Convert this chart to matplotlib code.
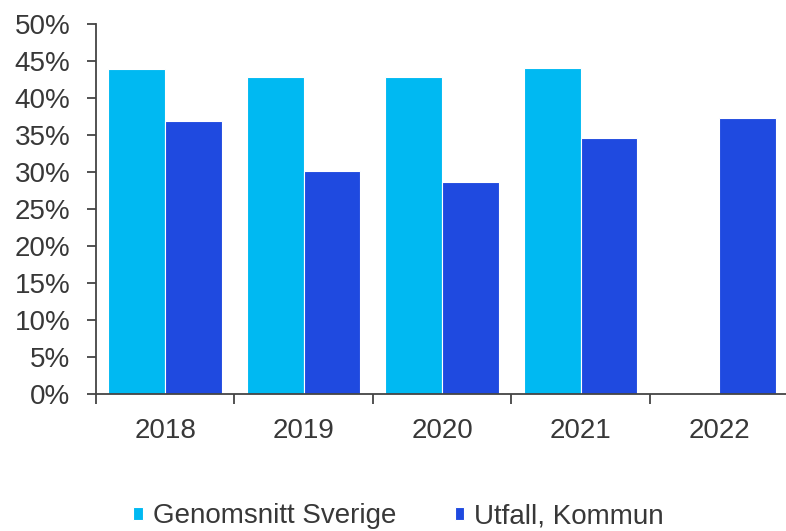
import matplotlib
matplotlib.use("Agg")
import matplotlib.pyplot as plt
import numpy as np
from matplotlib.ticker import FuncFormatter, FixedLocator

plt.rcParams['font.family'] = ['Liberation Sans', 'DejaVu Sans']

years = ["2018", "2019", "2020", "2021", "2022"]
genomsnitt = [43.9, 42.8, 42.8, 44.0, np.nan]
utfall = [36.9, 30.2, 28.7, 34.6, 37.3]
yticks = [0, 5, 10, 15, 20, 25, 30, 35, 40, 45, 50]

c_light = "#00B9F2"
c_dark = "#1F4AE0"
txt = "#383838"
fs = 20

fig = plt.figure(figsize=(7.86, 5.31), dpi=100)
ax = fig.add_axes([96/786, 1-394/531, 1-96/786+0.003, (394-24)/531])

x = np.arange(len(years)) + 0.5
w = 0.41
ax.bar(x - w/2, genomsnitt, width=w, color=c_light, edgecolor="white", linewidth=0.8, label="Genomsnitt Sverige")
ax.bar(x + w/2, utfall, width=w, color=c_dark, edgecolor="white", linewidth=0.8, label="Utfall, Kommun")

ax.set_xlim(0, len(years))
ax.set_ylim(0, 50)
ax.set_yticks(yticks)
ax.yaxis.set_major_formatter(FuncFormatter(lambda v, p: f"{int(v)}%"))

ax.xaxis.set_major_locator(FixedLocator(list(range(len(years) + 1))))
ax.xaxis.set_major_formatter(FuncFormatter(lambda v, p: ""))
ax.xaxis.set_minor_locator(FixedLocator(list(x)))
ax.set_xticklabels(years, minor=True)
ax.tick_params(axis='x', which='minor', length=0, pad=17, labelsize=fs, labelcolor=txt)
ax.tick_params(axis='x', which='major', length=7, width=1.3, color="#444444", direction='out')
ax.tick_params(axis='y', length=6.5, width=1.3, color="#444444", labelsize=fs, labelcolor=txt, pad=12)

for s in ['top', 'right']:
    ax.spines[s].set_visible(False)
for s in ['left', 'bottom']:
    ax.spines[s].set_color("#444444")
    ax.spines[s].set_linewidth(1.3)

leg = fig.legend(loc='center', bbox_to_anchor=(0.507, 0.028), ncol=2, frameon=False,
                 fontsize=fs, handlelength=0.35, handleheight=0.35, handletextpad=0.35,
                 columnspacing=2.1, labelcolor=txt)

fig.savefig("out.png", dpi=100)
